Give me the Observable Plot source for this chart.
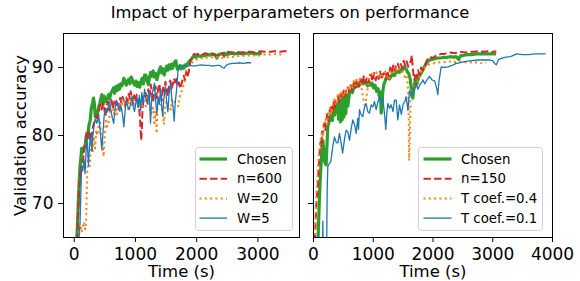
<!DOCTYPE html>
<html><head><meta charset="utf-8">
<script src="https://cdn.jsdelivr.net/npm/d3@7"></script>
<script src="https://cdn.jsdelivr.net/npm/@observablehq/plot@0.6"></script>
<style>
body{margin:0;background:#fff;}
#wrap{position:relative;width:580px;height:281px;font-family:"DejaVu Sans",sans-serif;overflow:hidden;background:#fff;}
#title{position:absolute;left:0;top:5px;width:580px;text-align:center;font-size:16.3px;line-height:16.3px;color:#000;white-space:nowrap;}
.abs{position:absolute;top:0;}
</style></head><body>
<div id="wrap"><div id="title">Impact of hyperparameters on performance</div></div>
<script>
// ---------- data (time in s, validation accuracy in %) ----------
const title = "Impact of hyperparameters on performance";
const yTicks = [70, 80, 90];
const leftXTicks = [0, 1000, 2000, 3000];
const rightXTicks = [0, 1000, 2000, 3000, 4000];
const leftLabels = ["Chosen", "n=600", "W=20", "W=5"];
const rightLabels = ["Chosen", "n=150", "T coef.=0.4", "T coef.=0.1"];

const leftChosen = [[40,64],[60,68.5],[80,73],[95,75.4],[110,76.8],[122,78.1],[140,77.5],[160,78.3],[177,78.3],[190,79.5],[205,80.3],[220,79.6],[240,81.5],[260,82.2],[280,84],[300,84.8],[315,85.5],[330,84.6],[343,82.8],[360,83.5],[380,83.2],[400,84.2],[420,84.8],[440,85.6],[452,86],[470,84.5],[490,85.8],[510,85],[535,85.3],[560,86],[580,85.4],[600,86.3],[618,86.5],[640,87],[660,86.2],[680,87.2],[700,86.6],[720,87.4],[740,86.8],[760,87.6],[780,87.3],[800,88],[811,88.4],[830,87.9],[850,87.4],[870,88],[890,88.3],[910,87.6],[930,88.6],[950,88.2],[970,87.7],[990,87.4],[1010,88],[1030,87.2],[1050,87.8],[1070,87.1],[1090,87.9],[1110,88.4],[1130,87.6],[1150,88.9],[1169,88.9],[1190,88.1],[1210,87.5],[1230,88.6],[1250,89.3],[1270,88.7],[1290,89.5],[1310,88.6],[1330,89.1],[1350,88.2],[1370,88.9],[1390,89.7],[1411,90.1],[1430,89.2],[1450,89.8],[1470,88.9],[1490,89.6],[1510,90.2],[1530,89.6],[1550,90.4],[1570,89.8],[1590,90.5],[1610,89.9],[1630,90.6],[1650,90.9],[1660,91],[1675,90.1],[1690,89.7],[1710,89.9],[1730,90.3],[1750,89.8],[1770,90.2],[1790,89.9],[1810,90.4],[1830,90.2],[1853,90.6],[1880,90.9],[1910,91.2],[1935,91.5],[1962,91.6],[1990,91.5],[2020,91.8],[2060,91.6],[2100,91.8],[2130,91.7],[2170,91.9],[2210,91.8],[2250,92],[2300,91.9],[2330,91.4],[2360,91.9],[2403,92],[2450,92.1],[2500,91.9],[2560,92.1],[2620,92],[2680,92.1],[2750,92],[2820,92.1],[2900,92.1],[2980,92],[3065,92.1]];

const leftN600 = [[40,63],[55,66],[67,69.6],[80,72],[95,74],[110,75.5],[125,75],[150,76.9],[170,78.5],[190,79],[205,80.3],[220,79.8],[233,80.8],[250,80],[275,79.2],[300,81],[320,81.8],[343,82.3],[360,83],[380,82],[400,83.5],[425,84.5],[450,83.8],[470,84.7],[490,84],[510,82.8],[530,84.5],[550,85],[570,83.7],[590,84.6],[610,85.2],[630,84],[650,84.8],[670,85.3],[690,84.5],[710,85.1],[730,84.2],[750,85.5],[770,84.8],[790,85.7],[810,85.1],[830,84.3],[850,85.6],[870,85],[890,86.1],[910,85.4],[921,86.5],[940,85.7],[960,84.6],[980,85.9],[1000,85],[1020,86],[1040,85.3],[1060,84],[1075,82.5],[1086,80.5],[1095,79.3],[1105,81],[1114,83.5],[1130,85.2],[1150,85.8],[1170,86.2],[1190,85.1],[1210,86.8],[1230,85.6],[1250,87.5],[1270,86.1],[1290,84.9],[1310,86.7],[1330,87.2],[1350,85.5],[1370,86.8],[1390,87.6],[1410,86.2],[1430,85.1],[1450,87.3],[1470,86.5],[1490,87.9],[1510,86.8],[1530,85.8],[1550,87.6],[1570,88.1],[1590,86.9],[1610,87.5],[1630,88.4],[1650,87.8],[1670,88.6],[1690,87.2],[1710,87.8],[1730,86.9],[1750,87.5],[1770,88.2],[1790,88.8],[1810,88.1],[1830,89.4],[1850,88.6],[1870,89.3],[1890,90.5],[1910,91.3],[1930,91.6],[1960,92],[1990,91.9],[2020,92],[2060,92.1],[2100,91.9],[2140,92.1],[2180,92],[2220,92.1],[2260,91.9],[2300,91.8],[2340,91.7],[2380,92],[2420,92.1],[2450,91.6],[2480,92.2],[2520,92.3],[2580,92.2],[2650,92.3],[2720,92.2],[2800,92.3],[2880,92.3],[2960,92.2],[3040,92.4],[3120,92.3],[3200,92.3],[3280,92.4],[3360,92.3],[3430,92.4],[3505,92.4]];

const leftW20 = [[60,64],[80,65.5],[100,66.8],[120,65.8],[140,66.5],[160,67.3],[180,66.2],[195,67.5],[205,72],[212,74.4],[233,77.4],[250,75.5],[260,76.4],[280,79.5],[300,77.5],[320,79.8],[342,78.1],[360,80.8],[380,80],[400,81.5],[420,82.3],[440,80],[460,79],[480,76.9],[500,80.2],[520,82.5],[540,81.3],[563,81.8],[590,84.3],[610,83.3],[640,83.9],[660,82.8],[680,84.2],[700,83.1],[730,84.6],[760,83.4],[790,84.9],[811,85.2],[830,84.1],[860,85],[880,83.9],[900,85.4],[930,84.5],[960,85.6],[990,84.2],[1020,85.3],[1050,84],[1080,85.1],[1110,83.9],[1140,85.5],[1170,84.3],[1200,85.6],[1230,84.6],[1260,83.2],[1290,84.1],[1310,81.5],[1330,83.6],[1346,80.3],[1365,84.8],[1390,85.3],[1420,84.2],[1445,83.5],[1466,81.6],[1490,84.6],[1515,85.1],[1540,84.4],[1577,83.8],[1600,85.4],[1630,85],[1660,84.8],[1700,84.3],[1720,85.5],[1742,86.2],[1770,86.8],[1800,88],[1830,89.6],[1870,90.3],[1907,90.6],[1950,90.9],[2000,91.2],[2060,91.4],[2120,91.3],[2180,91.5],[2250,91.5],[2320,91.6],[2400,91.4],[2480,91.5],[2560,91.5],[2610,91.6],[2700,91.7],[2800,91.7],[2900,91.8],[3000,91.7],[3100,91.9],[3200,91.9],[3300,92],[3400,91.9]];

const leftW5 = [[50,64],[80,65],[95,67.1],[110,72],[122,75.4],[140,74.8],[160,76.5],[177,74.4],[195,77.8],[210,79.5],[233,75.6],[250,78.5],[265,80.3],[288,77.7],[300,79.5],[315,80.8],[343,82.4],[370,81.8],[400,83],[425,80.5],[452,77.9],[470,80.5],[490,83],[515,84],[535,83.4],[560,84.5],[580,85],[600,83.6],[625,82.5],[645,81.8],[670,84.2],[690,85.2],[710,84.5],[740,83.6],[760,84.5],[790,83],[811,81.3],[830,83.5],[850,85.1],[875,84.3],[900,83.8],[925,84.8],[945,85.8],[965,84.2],[985,83.5],[1005,84.7],[1025,85.6],[1045,84.1],[1065,85.9],[1085,83.7],[1105,86.3],[1125,84.8],[1150,86.8],[1175,85.2],[1200,84.6],[1225,86.5],[1246,81.8],[1265,85.3],[1290,86.9],[1311,87.7],[1330,85.1],[1350,83.2],[1370,85.7],[1390,84.6],[1410,86.9],[1430,84.2],[1445,82.8],[1465,85.5],[1490,87.2],[1510,85],[1530,83.5],[1550,86.1],[1575,87.7],[1595,85.3],[1615,84.1],[1633,82.1],[1650,84.8],[1670,86.5],[1688,88.5],[1700,90.1],[1730,90.1],[1780,90.2],[1840,90.2],[1900,90.3],[1960,90.2],[2020,90.3],[2080,90.4],[2140,90.3],[2200,90.3],[2260,90.2],[2320,90.3],[2380,90.3],[2420,90],[2450,89.9],[2480,90.3],[2520,90.5],[2580,90.6],[2640,90.6],[2700,90.7],[2760,90.6],[2820,90.7],[2890,90.7]];

const rightChosen = [[70,63.5],[85,67],[100,71],[115,74],[128,75.9],[142,78],[156,79.3],[170,78],[185,76.2],[200,75.8],[212,75.7],[225,78.5],[240,81.3],[260,82],[280,82.6],[295,83.2],[315,82.2],[335,83.8],[355,83],[380,84.1],[407,84.7],[420,82.4],[435,85.2],[450,82],[465,85.5],[480,82.3],[495,85.6],[510,82.7],[525,85.9],[540,83.2],[555,86.1],[575,84.3],[600,86.2],[625,86.6],[650,86.3],[670,86.9],[686,87.1],[710,87.4],[735,87.2],[760,87.8],[785,87.5],[810,87.9],[835,87.6],[853,88.1],[880,87.8],[905,87.3],[930,87.9],[955,87.4],[980,87.7],[1005,87],[1030,87.4],[1055,86.5],[1080,86.9],[1100,85.8],[1120,86.4],[1133,83.3],[1145,84.5],[1160,86.5],[1180,87.6],[1200,88],[1220,88.5],[1244,88.6],[1270,88.3],[1300,88.7],[1325,89],[1350,88.8],[1380,89.2],[1411,89.4],[1440,89.3],[1465,89.7],[1490,89.6],[1523,90.1],[1550,89.8],[1575,89.3],[1600,89],[1620,88.2],[1635,87],[1650,85.7],[1662,85.5],[1675,86.5],[1690,87.6],[1710,88.1],[1730,87.6],[1760,88.6],[1790,89],[1810,89.3],[1830,89.6],[1860,90.2],[1890,90.6],[1915,90.9],[1941,91.1],[1980,91.2],[2030,91.3],[2080,91.4],[2130,91.4],[2180,91.5],[2240,91.5],[2300,91.6],[2350,91.5],[2388,91.6],[2430,91.2],[2460,91.7],[2520,91.8],[2580,91.9],[2650,91.9],[2720,92],[2800,92],[2880,92],[2960,92],[3057,92]];

const rightN150 = [[15,63],[30,66],[45,69.5],[60,71.5],[72,72.5],[85,75],[100,77],[115,79],[130,78.3],[145,80.6],[156,80.3],[170,81.5],[184,81.8],[200,80.8],[215,82.3],[230,83.2],[250,82.2],[270,83.6],[296,84.2],[315,83.4],[335,84.9],[355,83.8],[375,85.2],[407,85.7],[430,84.9],[455,86.1],[480,85.4],[505,86.6],[530,85.8],[555,86.9],[574,87.1],[600,86.4],[625,87.4],[650,86.6],[675,87.8],[700,87],[720,88.2],[741,88.1],[765,87.2],[790,88.3],[815,87.5],[840,88.7],[865,87.7],[890,88.4],[915,87.6],[940,88.9],[965,88.9],[990,88],[1015,89.2],[1040,88.1],[1065,89],[1090,88.3],[1115,89.4],[1140,88.2],[1165,89.1],[1188,89.1],[1210,88.3],[1235,89.5],[1260,88.6],[1285,90],[1310,89.2],[1335,90.3],[1360,89.5],[1385,90.6],[1411,90.6],[1435,89.8],[1460,90.5],[1485,89.9],[1510,91],[1535,90.3],[1560,90.9],[1585,90.1],[1610,90.6],[1630,91],[1646,91.8],[1660,90],[1675,88.8],[1690,88.1],[1710,89.2],[1730,88.5],[1750,89.6],[1775,88.9],[1800,90],[1830,89.6],[1858,90.1],[1885,90.8],[1910,91.2],[1940,91.1],[1970,91.5],[2000,91.4],[2040,91.7],[2081,91.8],[2130,92],[2180,92],[2240,92.1],[2300,92.2],[2360,92.1],[2420,92.2],[2480,92.3],[2540,92.2],[2600,92.3],[2680,92.3],[2760,92.4],[2840,92.3],[2920,92.4],[3000,92.3],[3060,92.35]];

const rightT04 = [[15,63],[25,65.5],[40,69],[55,72],[70,74.5],[85,76.5],[100,78],[120,79.4],[140,80.5],[160,79.8],[180,81.3],[200,82.5],[225,81.6],[250,83.4],[275,84],[300,83.1],[325,84.6],[350,85.3],[375,84.5],[400,85.8],[425,86.3],[450,85.4],[475,86.5],[500,85.9],[525,86.8],[550,86.2],[575,87.3],[600,86.8],[625,87.6],[650,87.1],[675,88],[700,87.4],[725,88.4],[750,87.7],[775,88.3],[800,87.1],[825,85.8],[855,84.5],[880,85.2],[905,86.8],[930,88.2],[960,88.8],[990,89.4],[1020,88.9],[1050,89.3],[1080,88.6],[1110,89.1],[1140,88.4],[1170,89],[1200,89.4],[1230,88.7],[1260,88.2],[1290,89.1],[1320,89.6],[1350,89.3],[1380,89.8],[1410,89.4],[1440,89.9],[1470,89.5],[1500,89.1],[1530,88.6],[1555,88.9],[1575,87.8],[1590,85.5],[1600,76.3],[1612,79.5],[1625,85.7],[1645,86.8],[1670,87.3],[1700,86.9],[1730,87.5],[1760,88.4],[1790,89.2],[1820,89.6],[1860,90],[1900,90.3],[1950,90.5],[2000,90.6],[2060,90.7],[2130,90.8],[2200,90.8],[2280,90.9],[2360,90.8],[2440,90.9],[2520,90.8],[2600,90.7],[2680,90.8],[2760,90.7],[2830,90.6],[2890,90.7]];

const rightT01 = [[78,63],[84,65.3],[90,63],[150,63],[156,67.4],[162,63],[220,63],[229,72],[240,75.5],[268,75.9],[290,76.2],[323,78.4],[350,79.8],[380,79],[407,78.9],[435,80.3],[460,79],[487,77.4],[520,79.5],[547,80.8],[575,80.5],[603,79.3],[630,81],[658,82.3],[690,81.5],[714,80.3],[740,82.5],[753,80.9],[770,83.8],[800,83],[826,82.8],[850,84],[881,84.7],[910,83.5],[937,83.3],[965,84.5],[993,84.2],[1020,85],[1049,83.8],[1080,85],[1105,85.7],[1130,85],[1160,85.5],[1190,83],[1210,80.9],[1225,83],[1244,84.7],[1272,84],[1300,84.5],[1330,83.5],[1356,85.2],[1384,85.2],[1411,82.3],[1440,84.5],[1470,83.1],[1500,84.6],[1530,85],[1551,85.7],[1580,83.7],[1607,86.6],[1640,85.8],[1670,86.8],[1700,87],[1719,87.7],[1750,86.8],[1780,87.5],[1810,87.8],[1830,88.2],[1860,87.6],[1900,88.2],[1941,88.7],[1980,88.2],[2030,88],[2060,87],[2081,86],[2100,88],[2137,90.1],[2180,90],[2250,90.1],[2320,90.3],[2388,90.6],[2450,90.7],[2550,90.9],[2650,91],[2750,91.1],[2850,91.1],[2950,91.1],[3000,91],[3030,90.6],[3060,90.4],[3100,91.2],[3200,91.5],[3300,91.6],[3400,92],[3500,91.9],[3600,91.9],[3700,92],[3800,92],[3883,92]];

// ---------- styling ----------
const styles = [
  {color: "#2ca02c", width: 3.2, dash: null, cap: "butt"},
  {color: "#d62728", width: 2, dash: "7.4,3.2", cap: "butt"},
  {color: "#ff7f0e", width: 2, dash: "2,3.3", cap: "butt"},
  {color: "#1f77b4", width: 1.3, dash: null, cap: "butt"}
];
const FONT = "DejaVu Sans";

function makePanel({series, xDomain, xTicks, yLabels, width, marginLeft, marginRight}) {
  const marks = series.map((s, i) => Plot.line(s, {
    x: d => d[0], y: d => d[1], stroke: styles[i].color, strokeWidth: styles[i].width,
    strokeDasharray: styles[i].dash, strokeLinecap: styles[i].cap, strokeLinejoin: "round", clip: true
  }));
  marks.push(Plot.frame({stroke: "#000", strokeWidth: 1}));
  marks.push(Plot.text(["Time (s)"], {text: d => d, frameAnchor: "bottom", textAnchor: "middle", lineAnchor: "middle", dy: 34.5, fontSize: 16.5}));
  if (yLabels) marks.push(Plot.text(["Validation accuracy"], {text: d => d, frameAnchor: "left", textAnchor: "middle", lineAnchor: "middle", rotate: -90, dx: -43, fontSize: 16.5}));
  return Plot.plot({
    width, height: 281, marginTop: 33, marginBottom: 44, marginLeft, marginRight,
    style: {fontFamily: FONT, fontSize: "17px", color: "#000", background: "transparent", overflow: "visible"},
    x: {domain: xDomain, ticks: xTicks, tickSize: 5, tickPadding: 5, label: null, tickFormat: d => String(d)},
    y: {domain: [65, 95], ticks: yTicks, tickSize: 5, tickPadding: 5, label: null, tickFormat: yLabels ? (d => String(d)) : (() => "")},
    marks
  });
}

const wrap = document.getElementById("wrap");
const left = makePanel({series: [leftChosen, leftN600, leftW20, leftW5], xDomain: [-175, 3680], xTicks: leftXTicks, yLabels: true, width: 300, marginLeft: 63, marginRight: 1});
left.classList.add("abs"); left.style.left = "0px"; left.style.position = "absolute";
wrap.appendChild(left);
const right = makePanel({series: [rightChosen, rightN150, rightT04, rightT01], xDomain: [0, 4000], xTicks: rightXTicks, yLabels: false, width: 280, marginLeft: 13, marginRight: 28});
right.classList.add("abs"); right.style.left = "300px"; right.style.position = "absolute";
wrap.appendChild(right);

// ---------- legends ----------
function legend(x, y, w, h, labels, lineX0, lineX1, textX) {
  const svg = d3.select(wrap).append("svg").attr("class", "abs")
    .style("position", "absolute").style("left", "0px").style("top", "0px")
    .attr("width", 580).attr("height", 281).style("pointer-events", "none");
  svg.append("rect").attr("x", x + 0.5).attr("y", y + 0.5).attr("width", w).attr("height", h).attr("rx", 3)
    .attr("fill", "#fff").attr("fill-opacity", 0.8).attr("stroke", "#d0d0d0").attr("stroke-width", 1);
  const rows = [159, 178.7, 198.4, 218.1];
  labels.forEach((lab, i) => {
    const st = styles[i];
    svg.append("line").attr("x1", lineX0).attr("x2", lineX1).attr("y1", rows[i]).attr("y2", rows[i])
      .attr("stroke", st.color).attr("stroke-width", st.width).attr("stroke-dasharray", st.dash);
    svg.append("text").attr("x", textX).attr("y", rows[i]).attr("dy", "0.36em")
      .attr("font-family", FONT).attr("font-size", 13.3).attr("fill", "#000").text(lab);
  });
}
legend(195, 147, 97, 83, leftLabels, 199.5, 227, 237);
legend(418, 147, 124, 83, rightLabels, 423.5, 451.5, 461);
</script></body></html>
